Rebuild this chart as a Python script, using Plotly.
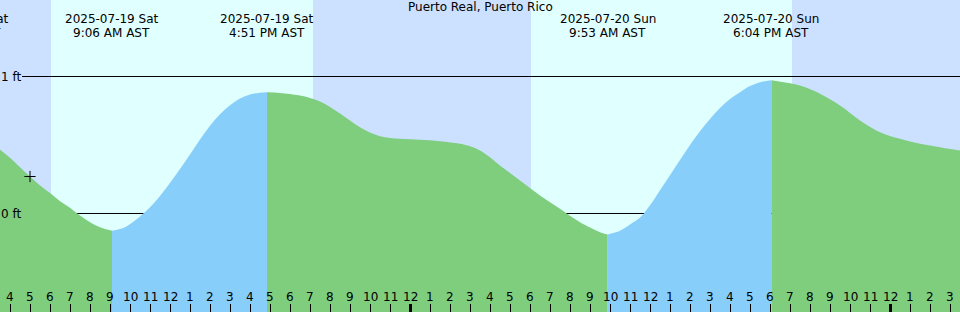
import plotly.graph_objects as go

# ---- data (hours since 2025-07-19 00:00 AST, heights in ft) ----
times = [3.5, 4.0, 4.5, 5.0, 5.5, 6.05, 6.5, 7.0, 7.5, 8.0, 8.5, 9.1,
         9.75, 10.25, 10.65, 11.0, 11.5, 12.0, 12.5, 13.0, 13.5, 14.0, 14.5,
         15.0, 15.5, 16.0, 16.5, 16.85,
         17.5, 18.5, 19.5, 20.5, 21.5, 22.5, 23.5, 24.5, 25.5, 26.5, 27.0,
         27.5, 28.0, 28.5, 29.5, 30.5, 31.5, 32.5, 33.5, 33.883,
         34.5, 35.0, 35.5, 36.0, 36.5, 37.0, 37.5, 38.0, 38.5, 39.0, 39.5,
         40.0, 40.5, 41.0, 41.5, 42.067,
         43.5, 44.5, 45.5, 46.5, 47.5, 48.5, 49.5, 50.5, 51.5]
heights = [0.465, 0.407, 0.338, 0.270, 0.204, 0.144, 0.090, 0.042, -0.015,
           -0.063, -0.100, -0.126,
           -0.100, -0.051, -0.002, 0.046, 0.128, 0.222, 0.325, 0.430, 0.540,
           0.640, 0.725, 0.790, 0.840, 0.868, 0.882, 0.885,
           0.880, 0.861, 0.818, 0.730, 0.630, 0.564, 0.545, 0.538, 0.528,
           0.509, 0.490, 0.460, 0.410, 0.350, 0.241, 0.131, 0.034, -0.064,
           -0.136, -0.153,
           -0.125, -0.080, -0.030, 0.060, 0.170, 0.280, 0.390, 0.500, 0.600,
           0.690, 0.770, 0.835, 0.885, 0.930, 0.958, 0.973,
           0.934, 0.874, 0.788, 0.679, 0.593, 0.545, 0.509, 0.484, 0.460]

event_times = [1.6, 9.1, 16.85, 33.883, 42.067]
event_dates = ["2025-07-19 Sat", "2025-07-19 Sat", "2025-07-19 Sat",
               "2025-07-20 Sun", "2025-07-20 Sun"]
event_clock = ["1:36 AM AST", "9:06 AM AST", "4:51 PM AST",
               "9:53 AM AST", "6:04 PM AST"]

day_starts = [6.05, 30.05]
day_ends = [19.15, 43.1]

hour_ticks = list(range(4, 52))
hour_labels = [str((h % 12) or 12) for h in hour_ticks]
midnights = [24, 48]

now_time = [5.0]
now_height = [0.27]

datum_levels = [0, 1]
datum_labels = ["0 ft", "1 ft"]

title = "Puerto Real, Puerto Rico"

# ---- style ----
X0, X1 = 3.5, 51.5
Y1 = 213.5 / 137
Y0 = (213.5 - 312) / 137
NIGHT = "#CCE0FF"
DAY = "#E0FFFF"
FALL = "#7ECE7E"
RISE = "#87CEFA"
FONT = "DejaVu Sans"
FS = 12

fig = go.Figure()

# split curve at extremes
split_idx = [0] + [times.index(t) for t in event_times if t in times] + [len(times) - 1]
for k in range(len(split_idx) - 1):
    a, b = split_idx[k], split_idx[k + 1]
    xs = times[a:b + 1]
    ys = heights[a:b + 1]
    rising = ys[-1] > ys[0]
    fig.add_trace(go.Scatter(x=xs, y=[Y0 - 1] * len(xs), mode="lines",
                             line=dict(width=0), hoverinfo="skip"))
    fig.add_trace(go.Scatter(x=xs, y=ys, mode="lines", fill="tonexty",
                             fillcolor=RISE if rising else FALL,
                             line=dict(width=0, shape="spline", smoothing=1.0),
                             hoverinfo="skip"))

fig.add_trace(go.Scatter(x=now_time, y=now_height, mode="markers",
                         marker=dict(symbol="cross-thin", size=8,
                                     line=dict(width=1, color="black")),
                         hoverinfo="skip"))
# invisible trace for secondary axis (midnight ticks)
fig.add_trace(go.Scatter(x=[X0], y=[Y0 - 1], xaxis="x2", mode="markers",
                         marker=dict(opacity=0), hoverinfo="skip"))

shapes = []
for s, e in zip(day_starts, day_ends):
    shapes.append(dict(type="rect", xref="x", yref="paper", x0=s, x1=e,
                       y0=0, y1=1, fillcolor=DAY, line=dict(width=0),
                       layer="below"))
for lv in datum_levels:
    shapes.append(dict(type="line", xref="paper", yref="y", x0=22 / 960, x1=1,
                       y0=lv, y1=lv, line=dict(color="black", width=1),
                       layer="below"))

ann = []
ann.append(dict(text=title, xref="paper", yref="paper", x=0.5, y=1 - 7 / 312,
                xanchor="center", yanchor="middle", showarrow=False,
                font=dict(family=FONT, size=FS, color="black")))
for t, d, c in zip(event_times, event_dates, event_clock):
    xp = (t - X0) / (X1 - X0)
    ann.append(dict(text=d, xref="paper", yref="paper", x=xp, y=1 - 19.4 / 312,
                    xanchor="center", yanchor="middle", showarrow=False,
                    font=dict(family=FONT, size=FS, color="black")))
    ann.append(dict(text=c, xref="paper", yref="paper", x=xp, y=1 - 33.4 / 312,
                    xanchor="center", yanchor="middle", showarrow=False,
                    font=dict(family=FONT, size=FS, color="black")))
for lv, lb in zip(datum_levels, datum_labels):
    ann.append(dict(text=lb, xref="paper", yref="y", x=23 / 960, y=lv,
                    xanchor="right", yanchor="middle", showarrow=False,
                    font=dict(family=FONT, size=FS, color="black")))
for h, lb in zip(hour_ticks, hour_labels):
    ann.append(dict(text=lb, xref="x", yref="paper", x=h, y=1 - 297 / 312,
                    xanchor="center", yanchor="middle", showarrow=False,
                    font=dict(family=FONT, size=FS, color="black")))

fig.update_layout(
    width=960, height=312, margin=dict(l=0, r=0, t=0, b=0, pad=0),
    showlegend=False, plot_bgcolor=NIGHT, paper_bgcolor=NIGHT,
    xaxis=dict(range=[X0, X1], showgrid=False, zeroline=False, showline=False,
               ticks="inside", tickvals=hour_ticks, ticklen=8, tickwidth=1,
               tickcolor="black", showticklabels=False, fixedrange=True),
    xaxis2=dict(range=[X0, X1], overlaying="x", side="bottom", showgrid=False,
                zeroline=False, showline=False, ticks="inside",
                tickvals=midnights, ticklen=8, tickwidth=3, tickcolor="black",
                showticklabels=False),
    yaxis=dict(range=[Y0, Y1], visible=False, fixedrange=True),
    shapes=shapes, annotations=ann,
)

fig.write_html("out.html")
